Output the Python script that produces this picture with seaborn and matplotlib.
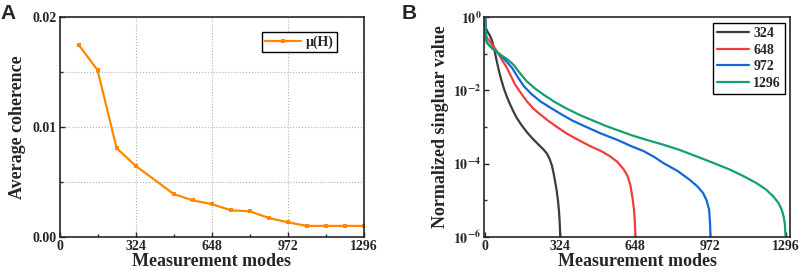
import matplotlib
matplotlib.use("Agg")
import matplotlib.pyplot as plt
from matplotlib.ticker import FixedLocator, NullFormatter
import seaborn as sns
import pandas as pd

# Panel A: average coherence vs measurement modes
modes_a = [81, 162, 243, 324, 486, 567, 648, 729, 810, 891, 972, 1053, 1134, 1215, 1296]
coherence = [0.01749, 0.01517, 0.00807, 0.00647, 0.0039, 0.00332, 0.00299, 0.00242,
             0.00233, 0.00172, 0.00133, 0.00100, 0.00100, 0.00100, 0.00100]

# Panel B: normalized singular value curves
x_324 = [1, 3, 10, 20, 30, 40, 50, 60, 70, 80, 92, 105, 120, 137, 158, 180, 205, 230,
         250, 266, 278, 288, 296, 303, 309, 314, 318, 321, 323, 324]
y_324 = [1, 0.50, 0.40, 0.316, 0.224, 0.126, 0.063, 0.033, 0.019, 0.0117, 0.0071,
         0.0045, 0.0028, 0.00174, 0.0011, 7.2e-4, 4.8e-4, 3.3e-4, 2.5e-4, 1.9e-4,
         1.35e-4, 8.9e-5, 5.2e-5, 2.95e-5, 1.78e-5, 1e-5, 5.6e-6, 2.95e-6, 1.6e-6, 1e-6]
x_648 = [1, 3, 8, 30, 51, 72, 94, 112, 130, 155, 180, 208, 238, 270, 303, 352, 400,
         453, 500, 539, 570, 598, 615, 627, 636, 642, 646, 648]
y_648 = [1, 0.355, 0.269, 0.178, 0.115, 0.069, 0.041, 0.024, 0.0141, 0.0083, 0.0050,
         0.00316, 0.00219, 0.00151, 0.00107, 6.6e-4, 4.5e-4, 3.0e-4, 2.2e-4, 1.58e-4,
         1.12e-4, 6.9e-5, 4.5e-5, 2.5e-5, 1.12e-5, 5.6e-6, 2.5e-6, 1e-6]
x_972 = [1, 3, 8, 30, 66, 90, 116, 140, 167, 200, 238, 280, 325, 375, 426, 500, 568,
         630, 683, 730, 767, 830, 883, 915, 940, 955, 966, 970, 972]
y_972 = [1, 0.25, 0.195, 0.141, 0.093, 0.063, 0.041, 0.0234, 0.0129, 0.0079, 0.0050,
         0.0034, 0.00229, 0.00151, 0.00107, 6.6e-4, 4.5e-4, 3.0e-4, 2.2e-4, 1.51e-4,
         1.05e-4, 6.3e-5, 3.6e-5, 2.4e-5, 1.58e-5, 1e-5, 5.6e-6, 2.5e-6, 1e-6]
x_1296 = [1, 3, 8, 30, 66, 95, 122, 150, 180, 215, 252, 300, 352, 410, 467, 520, 568,
          630, 683, 767, 840, 911, 980, 1055, 1110, 1170, 1210, 1242, 1265, 1279, 1288,
          1293, 1296]
y_1296 = [1, 0.25, 0.2, 0.141, 0.093, 0.071, 0.050, 0.0295, 0.0174, 0.0112, 0.0076,
          0.0048, 0.00316, 0.00209, 0.00148, 0.00107, 8.3e-4, 6.0e-4, 4.7e-4, 3.3e-4,
          2.35e-4, 1.58e-4, 1.07e-4, 6.9e-5, 4.7e-5, 2.95e-5, 2.0e-5, 1.29e-5, 8.5e-6,
          5.6e-6, 3.5e-6, 2.2e-6, 1e-6]

series_names = ['324', '648', '972', '1296']
series_colors = ['#3c3c3c', '#f23d3d', '#1366d6', '#12a06c']
tick_labels = ['0', '324', '648', '972', '1296']

sns.set_style('ticks')
plt.rcParams['font.family'] = ['Liberation Serif', 'DejaVu Serif']
plt.rcParams['font.weight'] = 'bold'
plt.rcParams['mathtext.fontset'] = 'stix'
plt.rcParams['axes.linewidth'] = 1.2
plt.rcParams['xtick.direction'] = 'in'
plt.rcParams['ytick.direction'] = 'in'

fig = plt.figure(figsize=(8.03, 2.72), dpi=100)
ax1 = fig.add_axes([0.0741, 0.129, 0.3792, 0.8085])
ax2 = fig.add_axes([0.603, 0.129, 0.3808, 0.8085])

# Panel A
df_a = pd.DataFrame({'modes': modes_a, 'coherence': coherence})
sns.lineplot(data=df_a, x='modes', y='coherence', ax=ax1, color='#ff8800', marker='s',
             markersize=3.5, markeredgewidth=0, linewidth=1.6, label='μ(H)')
ax1.set_xlim(0, 1296)
ax1.set_ylim(0, 0.02)
ax1.set_xticks([0, 324, 648, 972, 1296])
ax1.set_xticklabels(tick_labels)
ax1.xaxis.set_minor_locator(FixedLocator([162, 486, 810, 1134]))
ax1.set_yticks([0, 0.01, 0.02])
ax1.set_yticklabels(['0.00', '0.01', '0.02'])
ax1.yaxis.set_minor_locator(FixedLocator([0.005, 0.015]))
ax1.grid(True, which='major', axis='x', color='#b0b0b0', linestyle=':', linewidth=0.8)
ax1.grid(True, which='both', axis='y', color='#b0b0b0', linestyle=':', linewidth=0.8)
ax1.set_xlabel('Measurement modes', fontsize=13, fontweight='bold', labelpad=0)
ax1.set_ylabel('Average coherence', fontsize=13, fontweight='bold', labelpad=5)
ax1.tick_params(which='major', length=3.5, width=1, labelsize=10, pad=2)
ax1.tick_params(which='minor', length=2, width=1)
leg1 = ax1.legend(loc='upper right', bbox_to_anchor=(0.911, 0.932), borderaxespad=0,
                  fancybox=False, edgecolor='black', framealpha=1, fontsize=10,
                  handlelength=2.6, borderpad=0.25, handletextpad=0.3)
leg1.get_frame().set_linewidth(1.0)

# Panel B
df_b = pd.concat([
    pd.DataFrame({'modes': x_324, 'value': y_324, 'N': '324'}),
    pd.DataFrame({'modes': x_648, 'value': y_648, 'N': '648'}),
    pd.DataFrame({'modes': x_972, 'value': y_972, 'N': '972'}),
    pd.DataFrame({'modes': x_1296, 'value': y_1296, 'N': '1296'}),
])
sns.lineplot(data=df_b, x='modes', y='value', hue='N', hue_order=series_names,
             palette=dict(zip(series_names, series_colors)), ax=ax2, linewidth=1.6,
             estimator=None)
ax2.set_yscale('log')
ax2.set_xlim(-4, 1315)
ax2.set_ylim(1e-6, 1)
ax2.set_xticks([0, 324, 648, 972, 1296])
ax2.set_xticklabels(tick_labels)
ax2.set_yticks([1e-6, 1e-4, 1e-2, 1])
ax2.set_yticklabels([r'$\mathbf{10^{-6}}$', r'$\mathbf{10^{-4}}$', r'$\mathbf{10^{-2}}$',
                     r'$\mathbf{10^{0}}$'])
ax2.yaxis.set_minor_locator(FixedLocator([1e-5, 1e-3, 1e-1]))
ax2.yaxis.set_minor_formatter(NullFormatter())
ax2.set_xlabel('Measurement modes', fontsize=13, fontweight='bold', labelpad=0)
ax2.set_ylabel('Normalized singluar value', fontsize=13, fontweight='bold', labelpad=3)
ax2.tick_params(which='major', length=3.5, width=1, labelsize=10, pad=2)
ax2.tick_params(which='minor', length=2, width=1)
leg2 = ax2.legend(loc='upper right', bbox_to_anchor=(0.984, 0.973), borderaxespad=0,
                  fancybox=False, edgecolor='black', framealpha=1, fontsize=10,
                  handlelength=2.3, borderpad=0.3, handletextpad=0.3, labelspacing=0.25)
leg2.get_frame().set_linewidth(1.0)
for h in leg2.get_lines():
    h.set_linewidth(1.6)

fig.text(0.0, 0.985, 'A', fontsize=15, fontweight='bold', family='Liberation Sans', va='top')
fig.text(0.5, 0.985, 'B', fontsize=15, fontweight='bold', family='Liberation Sans', va='top')

fig.savefig('out.png', dpi=100)
